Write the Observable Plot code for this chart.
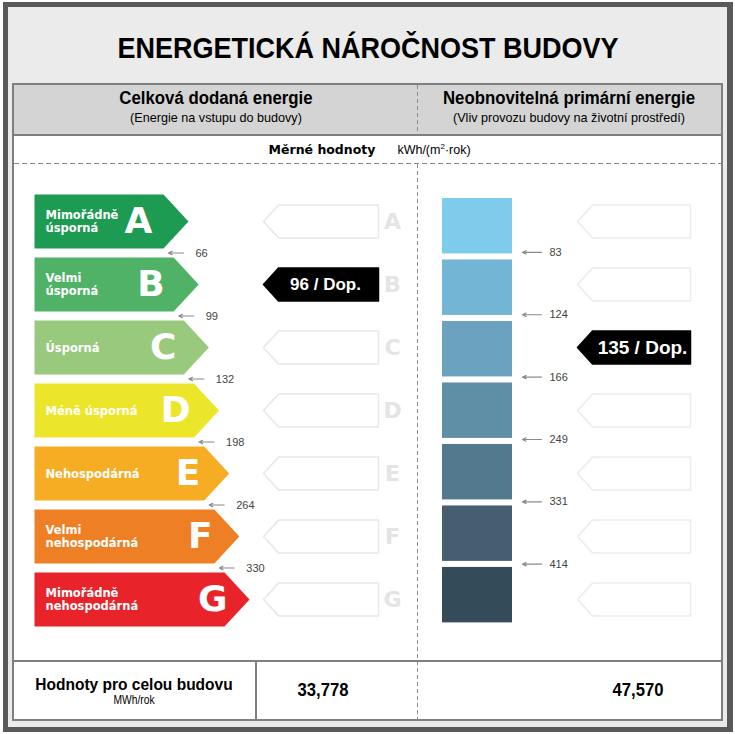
<!DOCTYPE html>
<html><head><meta charset="utf-8">
<script src="https://cdn.jsdelivr.net/npm/d3@7"></script>
<script src="https://cdn.jsdelivr.net/npm/@observablehq/plot@0.6"></script>
<style>
body{margin:0;width:735px;height:734px;position:relative;background:#fff;overflow:hidden;font-family:"Liberation Sans",Arial,sans-serif;color:#000}
.a{position:absolute}
.t{position:absolute;white-space:nowrap;transform:translate(-50%,-50%);line-height:1}
.vd{position:absolute;width:1px;background:repeating-linear-gradient(to bottom,#8c8c8c 0 4px,transparent 4px 7px)}
.hd{position:absolute;height:1px;background:repeating-linear-gradient(to right,#8c8c8c 0 5px,transparent 5px 8px)}
</style></head><body>
<div class="a" style="left:3px;top:2px;width:730px;height:730px;background:#595959"></div>
<div class="a" style="left:8px;top:7px;width:719px;height:720px;background:#ebebeb"></div>
<div class="a" style="left:12px;top:83px;width:707px;height:634px;border:2px solid #7f7f7f;background:#fff"></div>
<div class="a" style="left:14px;top:85px;width:707px;height:49px;background:#d4d4d4;border-bottom:2px solid #7f7f7f"></div>
<div class="vd" style="left:417px;top:85px;height:49px"></div>
<div class="vd" style="left:417px;top:164px;height:555px"></div>
<div class="hd" style="left:14px;top:163px;width:707px"></div>
<div class="a" style="left:14px;top:660px;width:707px;height:2px;background:#7f7f7f"></div>
<div class="a" style="left:255px;top:662px;width:2px;height:57px;background:#7f7f7f"></div>

<div class="t" id="title" style="left:368px;top:48px;font-weight:bold;font-size:30px;transform:translate(-50%,-50%) scaleX(0.9)"></div>
<div class="t" id="h1" style="left:216px;top:99px;font-weight:bold;font-size:17.5px;transform:translate(-50%,-50%) scaleX(0.96)"></div>
<div class="t" id="s1" style="left:216px;top:117px;font-size:13px;transform:translate(-50%,-50%) scaleX(0.97)"></div>
<div class="t" id="h2" style="left:569px;top:99px;font-weight:bold;font-size:17.5px;transform:translate(-50%,-50%) scaleX(0.96)"></div>
<div class="t" id="s2" style="left:569px;top:117px;font-size:13px;transform:translate(-50%,-50%) scaleX(0.97)"></div>
<div class="t" id="unitLabel" style="left:322px;top:150px;font-family:'DejaVu Sans',sans-serif;font-weight:bold;font-size:12.5px"></div>
<div class="t" id="unit" style="left:434px;top:150px;font-size:12.5px"></div>
<div class="t" id="f1" style="left:134px;top:684px;font-weight:bold;font-size:16.5px;transform:translate(-50%,-50%) scaleX(0.94)"></div>
<div class="t" id="f2" style="left:134px;top:700px;font-size:12.5px;transform:translate(-50%,-50%) scaleX(0.82)"></div>
<div class="t" id="tot1" style="left:323px;top:690px;font-weight:bold;font-size:18.5px;transform:translate(-50%,-50%) scaleX(0.9)"></div>
<div class="t" id="tot2" style="left:638px;top:690px;font-weight:bold;font-size:18.5px;transform:translate(-50%,-50%) scaleX(0.9)"></div>

<div class="a" id="left" style="left:14px;top:164px"></div>
<div class="a" id="right" style="left:418px;top:164px"></div>

<script>
// ---- data ----
const titleText = "ENERGETICKÁ NÁROČNOST BUDOVY";
const panelTitles = ["Celková dodaná energie", "Neobnovitelná primární energie"];
const panelSubtitles = ["(Energie na vstupu do budovy)", "(Vliv provozu budovy na životní prostředí)"];
const unitTitle = "Měrné hodnoty";
const unitText = "kWh/(m<sup style='font-size:8px'>2</sup>·rok)";
const footerTitle = "Hodnoty pro celou budovu";
const footerUnit = "MWh/rok";

const classes = ["A", "B", "C", "D", "E", "F", "G"];
const classNames = ["Mimořádně\núsporná", "Velmi\núsporná", "Úsporná", "Méně úsporná", "Nehospodárná", "Velmi\nnehospodárná", "Mimořádně\nnehospodárná"];
const classColors = ["#1d9b52", "#4fb267", "#99c97d", "#ece62b", "#f6ac23", "#ef7f24", "#e8232a"];
const deliveredLimits = [66, 99, 132, 198, 264, 330];
const deliveredValue = 96;
const deliveredTotal = "33,778";

const primaryColors = ["#7ecbeb", "#72b5d5", "#6aa2bf", "#5e8fa6", "#52798d", "#455f71", "#344c59"];
const primaryLimits = [83, 124, 166, 249, 331, 414];
const primaryValue = 135;
const primaryTotal = "47,570";
const valueSuffix = "Dop.";

// ---- text ----
document.getElementById("title").textContent = titleText;
document.getElementById("h1").textContent = panelTitles[0];
document.getElementById("h2").textContent = panelTitles[1];
document.getElementById("s1").textContent = panelSubtitles[0];
document.getElementById("s2").textContent = panelSubtitles[1];
document.getElementById("unitLabel").textContent = unitTitle;
document.getElementById("unit").innerHTML = unitText;
document.getElementById("f1").textContent = footerTitle;
document.getElementById("f2").textContent = footerUnit;
document.getElementById("tot1").textContent = deliveredTotal;
document.getElementById("tot2").textContent = primaryTotal;

// ---- layout helpers ----
const H = 496;
const yOpts = {domain: [0, classes.length], range: [25.5, 466.5], axis: null};
const classOf = (v, lims) => { const k = lims.findIndex(t => v <= t); return k < 0 ? lims.length : k; };
const arrowRight = (x0, x1, tip, top, bot) => [{x: x0, y: top}, {x: x1, y: top}, {x: tip, y: (top + bot) / 2}, {x: x1, y: bot}, {x: x0, y: bot}];
const arrowLeft = (tip, x0, x1, top, bot) => [{x: tip, y: (top + bot) / 2}, {x: x0, y: top}, {x: x1, y: top}, {x: x1, y: bot}, {x: x0, y: bot}];
const poly = (pts, o) => Plot.line(pts, {x: "x", y: "y", curve: "linear-closed", ...o});

// ---- left panel ----
{
  const W = 403, pad = 0.0714;
  const rows = classes.map((c, i) => ({c, i, name: classNames[i], color: classColors[i], tip: 174 + 10.17 * i}));
  const lims = deliveredLimits.map((v, i) => ({v, i, tip: rows[i].tip}));
  const cur = classOf(deliveredValue, deliveredLimits);
  const chart = Plot.plot({
    width: W, height: H, margin: 0,
    x: {domain: [0, W], range: [0, W], axis: null},
    y: yOpts,
    color: {type: "identity"},
    style: {background: "transparent", overflow: "visible"},
    marks: [
      ...rows.map(r => poly(arrowRight(20, r.tip - 25, r.tip, r.i + pad, r.i + 1 - pad), {fill: r.color, stroke: "none"})),
      Plot.text(rows, {x: () => 31, y: r => r.i + 0.5, text: "name", fill: "white", fontWeight: "bold", fontSize: 11.5, fontFamily: "DejaVu Sans", textAnchor: "start", lineHeight: 1.12}),
      Plot.text(rows, {x: r => r.tip - 50 + 2.2 * r.i, y: r => r.i + 0.5, text: "c", fill: "white", fontWeight: "bold", fontSize: 36, fontFamily: "DejaVu Sans"}),
      Plot.arrow(lims, {x1: d => d.tip - 5, x2: d => d.tip - 20, y1: d => d.i + 1, y2: d => d.i + 1, stroke: "#8a8a8a", strokeWidth: 1.2, headLength: 5, headAngle: 50}),
      Plot.text(lims, {x: d => d.tip + 7, y: d => d.i + 1, text: d => String(d.v), textAnchor: "start", fill: "#444", fontSize: 11, fontFamily: "Liberation Sans"}),
      ...rows.map(r => poly(arrowLeft(249, 264, 364, r.i + 0.24, r.i + 0.76), {fill: r.i === cur ? "#000" : "#fff", stroke: r.i === cur ? "#000" : "#e8e8e8", strokeWidth: 1.5})),
      Plot.text([deliveredValue], {x: () => 311, y: () => cur + 0.5, text: d => `${d} / ${valueSuffix}`, fill: "white", fontWeight: "bold", fontSize: 17, fontFamily: "Liberation Sans"}),
      Plot.text(rows, {x: () => 378, y: r => r.i + 0.5, text: "c", fill: "#e4e4e4", fontWeight: "bold", fontSize: 22, fontFamily: "DejaVu Sans"})
    ]
  });
  document.getElementById("left").append(chart);
}

// ---- right panel ----
{
  const W = 302, step = 0.976, off = 0.135, bh = 0.88;
  const rows = classes.map((c, i) => ({c, i, color: primaryColors[i], top: off + step * i}));
  const lims = primaryLimits.map((v, i) => ({v, i, y: 0.99 + 0.99 * i}));
  const cur = classOf(primaryValue, primaryLimits);
  const chart = Plot.plot({
    width: W, height: H, margin: 0,
    x: {domain: [0, W], range: [0, W], axis: null},
    y: yOpts,
    color: {type: "identity"},
    style: {background: "transparent", overflow: "visible"},
    marks: [
      Plot.rect(rows, {x1: () => 24, x2: () => 94, y1: r => r.top, y2: r => r.top + bh, fill: "color"}),
      Plot.arrow(lims, {x1: () => 123, x2: () => 104, y1: d => d.y, y2: d => d.y, stroke: "#8a8a8a", strokeWidth: 1.2, headLength: 5, headAngle: 50}),
      Plot.text(lims, {x: () => 131, y: d => d.y, text: d => String(d.v), textAnchor: "start", fill: "#444", fontSize: 11, fontFamily: "Liberation Sans"}),
      ...rows.map(r => poly(arrowLeft(159, 174, 272, r.i + 0.24, r.i + 0.76), {fill: r.i === cur ? "#000" : "#fff", stroke: r.i === cur ? "#000" : "#ececec", strokeWidth: 1.5})),
      Plot.text([primaryValue], {x: () => 224, y: () => cur + 0.5, text: d => `${d} / ${valueSuffix}`, fill: "white", fontWeight: "bold", fontSize: 19, fontFamily: "Liberation Sans"})
    ]
  });
  document.getElementById("right").append(chart);
}
</script>
</body></html>
